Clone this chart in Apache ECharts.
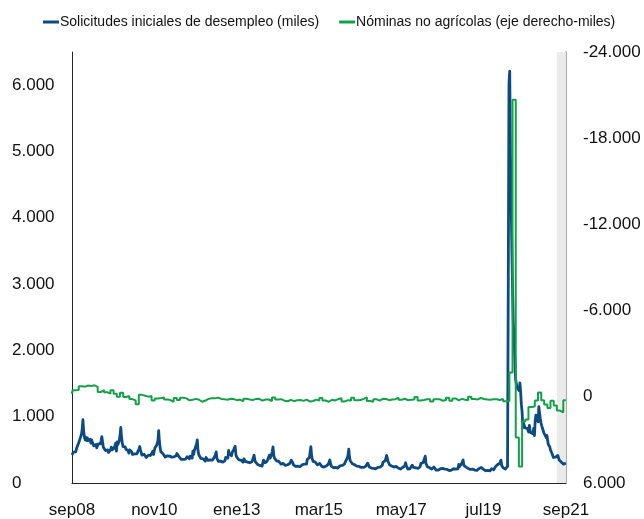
<!DOCTYPE html>
<html>
<head>
<meta charset="utf-8">
<script src="https://cdn.jsdelivr.net/npm/echarts@6/dist/echarts.min.js"></script>
<style>
  html, body { margin: 0; padding: 0; background: #fff; }
  #chart { width: 644px; height: 519px; }
</style>
</head>
<body>
<div id="chart"></div>
<script>
// Initial unemployment claims, not seasonally adjusted (thousands), weekly, week ending Saturday
const claimsStart = [2008, 8, 27]; // 27 Sep 2008
const claims2008 = [425, 445, 465, 450, 455, 470, 510, 545, 515, 600, 625, 665, 700, 735];
const claims2009 = [810, 957, 780, 700, 650, 690, 640, 680, 640, 660, 630, 660, 600, 650, 610, 600, 560,
  590, 550, 580, 530, 560, 590, 570, 610, 590, 640, 700, 620, 540, 520, 530, 490, 520, 480,
  500, 460, 480, 470, 500, 540, 500, 520, 490, 530, 550, 600, 480, 620, 580, 610, 640];
const claims2010 = [720, 840, 690, 610, 550, 570, 530, 545, 510, 520, 480, 490, 450, 500, 530, 470, 470,
  430, 450, 420, 440, 410, 450, 440, 465, 460, 510, 550, 500, 460, 420, 440, 420, 435, 405,
  410, 385, 400, 395, 420, 440, 430, 415, 440, 445, 480, 430, 490, 530, 510, 565, 555];
const claims2011 = [640, 790, 630, 530, 470, 480, 440, 440, 410, 420, 390, 400, 375, 410, 440, 410, 405, 400,
  410, 390, 395, 365, 395, 390, 420, 410, 445, 475, 430, 395, 365, 370, 355, 375, 360,
  355, 370, 350, 360, 355, 395, 370, 380, 365, 405, 390, 415, 375, 480, 430, 490, 495, 520];
const claims2012 = [590, 650, 490, 430, 410, 405, 370, 375, 360, 365, 335, 345, 330, 385, 370, 365, 340,
  345, 330, 350, 320, 355, 345, 375, 380, 405, 430, 470, 370, 355, 325, 340, 325, 330,
  315, 335, 315, 330, 310, 335, 385, 355, 360, 375, 490, 440, 410, 445, 410, 465, 470, 500];
const claims2013 = [520, 555, 430, 395, 370, 375, 350, 350, 340, 345, 320, 330, 315, 365, 340, 325, 305,
  300, 315, 295, 290, 305, 300, 325, 320, 340, 380, 420, 350, 315, 285, 300, 280, 285, 265,
  265, 250, 260, 255, 305, 345, 335, 305, 300, 325, 330, 345, 310, 420, 375, 405, 425];
const claims2014 = [480, 545, 420, 375, 355, 355, 335, 335, 325, 325, 300, 305, 285, 315, 300, 295, 275,
  275, 265, 270, 255, 275, 275, 295, 295, 315, 345, 372, 310, 275, 255, 265, 250, 260, 245,
  255, 245, 250, 245, 265, 275, 275, 260, 275, 285, 305, 295, 285, 355, 335, 345, 385];
const claims2015 = [470, 548, 410, 365, 325, 335, 315, 315, 295, 295, 275, 275, 260, 295, 275, 270, 250,
  245, 255, 240, 245, 245, 255, 260, 280, 285, 315, 347, 295, 255, 235, 245, 230, 240, 225,
  235, 220, 230, 225, 245, 255, 260, 240, 255, 265, 285, 255, 285, 315, 335, 325, 375];
const claims2016 = [420, 510, 395, 335, 305, 305, 290, 290, 270, 275, 260, 255, 255, 280, 260, 250, 230, 240,
  235, 250, 230, 235, 235, 255, 250, 275, 275, 300, 270, 245, 225, 230, 225, 225, 215,
  220, 205, 220, 215, 230, 235, 235, 220, 235, 240, 260, 235, 265, 315, 295, 305, 335, 340];
const claims2017 = [415, 435, 325, 295, 275, 270, 250, 255, 240, 245, 240, 240, 250, 250, 245, 220, 225,
  210, 230, 210, 215, 220, 235, 230, 250, 260, 305, 265, 235, 210, 215, 205, 215, 205,
  220, 270, 265, 235, 225, 210, 230, 210, 215, 220, 245, 230, 245, 295, 270, 265, 305, 315];
const claims2018 = [370, 405, 295, 265, 245, 250, 230, 230, 220, 230, 210, 210, 205, 240, 220, 215, 195,
  200, 205, 195, 195, 195, 215, 210, 225, 220, 240, 245, 210, 210, 195, 205, 190, 200,
  188, 195, 185, 195, 190, 200, 215, 205, 195, 210, 215, 240, 215, 280, 245, 260, 265, 295];
const claims2019 = [315, 348, 265, 245, 235, 240, 225, 230, 220, 220, 200, 205, 195, 210, 210, 205, 190,
  195, 200, 195, 190, 200, 205, 220, 215, 225, 235, 240, 210, 205, 185, 200, 185, 190, 180,
  190, 180, 190, 182, 195, 215, 200, 195, 200, 215, 240, 215, 235, 275, 265, 265, 295];
const claims2020 = [310, 345, 265, 245, 230, 225, 210, 210, 200, 205, 250, 2920, 6015, 6211, 4971, 4267, 3490,
  2849, 2380, 2174, 1898, 1567, 1507, 1433, 1413, 1438, 1393, 1508, 1370, 1185, 1076, 833, 901, 866, 833,
  863, 823, 825, 804, 770, 868, 790, 758, 738, 755, 743, 827, 716, 947, 1022, 1023, 1002];
const claims2021 = [922, 1151, 1055, 970, 905, 862, 833, 842, 754, 744, 747, 686, 719, 746, 582, 595, 547,
  498, 474, 445, 440, 386, 378, 395, 391, 366, 389, 415, 395, 346, 336, 337, 313, 308, 292,
  284, 301, 308, 300];

// Nonfarm payrolls, monthly change (thousands), from Aug 2008 to Aug 2021
const payrollStart = [2008, 7]; // Aug 2008
const payroll2008 = [-274, -459, -472, -727, -706];
const payroll2009 = [-784, -743, -800, -695, -330, -466, -322, -216, -454, -204, 2, -283];
const payroll2010 = [18, -50, 157, 253, 520, -136, -73, -11, -50, 262, 119, 88];
const payroll2011 = [42, 188, 225, 346, 77, 225, 69, 110, 246, 202, 146, 207];
const payroll2012 = [344, 259, 143, 94, 108, 56, 146, 176, 202, 136, 159, 245];
const payroll2013 = [190, 311, 135, 192, 218, 146, 140, 269, 185, 189, 291, 45];
const payroll2014 = [187, 168, 272, 310, 213, 306, 232, 218, 286, 200, 331, 292];
const payroll2015 = [194, 267, 83, 255, 345, 206, 254, 157, 100, 321, 234, 260];
const payroll2016 = [73, 236, 227, 141, 39, 286, 343, 173, 263, 139, 155, 233];
const payroll2017 = [191, 167, 58, 201, 138, 241, 197, 195, 15, 250, 216, 170];
const payroll2018 = [171, 330, 179, 164, 275, 225, 73, 282, 110, 245, 143, 209];
const payroll2019 = [236, 4, 146, 183, 82, 152, 180, 209, 176, 167, 222, 148];
const payroll2020 = [315, 289, -1683, -20679, 2833, 4846, 1726, 1583, 716, 680, 264, -306];
const payroll2021 = [233, 536, 785, 269, 614, 962, 1091, 235];

// Axis range and tick labels
const axisStart = [2008, 8, 27];
const axisEnd = [2021, 8, 27];
const tickDates = [[2008, 8, 27], [2010, 10, 27], [2013, 0, 27], [2015, 2, 27], [2017, 4, 27], [2019, 6, 27], [2021, 8, 27]];
const monthNames = ['ene', 'feb', 'mar', 'abr', 'may', 'jun', 'jul', 'ago', 'sep', 'oct', 'nov', 'dic'];
const shadedPeriod = [[2021, 6, 1], [2021, 8, 27]];

const seriesNames = ['Solicitudes iniciales de desempleo (miles)', 'Nóminas no agrícolas (eje derecho-miles)'];
const colors = ['#0d4a80', '#14a04b'];

const ts = d => new Date(d[0], d[1], d[2]).getTime();

const claims = [].concat(claims2008, claims2009, claims2010, claims2011, claims2012, claims2013, claims2014,
  claims2015, claims2016, claims2017, claims2018, claims2019, claims2020, claims2021);
const payroll = [].concat(payroll2008, payroll2009, payroll2010, payroll2011, payroll2012, payroll2013,
  payroll2014, payroll2015, payroll2016, payroll2017, payroll2018, payroll2019, payroll2020, payroll2021);

const claimsData = claims.map((v, i) =>
  [new Date(claimsStart[0], claimsStart[1], claimsStart[2] + 7 * i).getTime(), v]);

// each monthly print is shown from the start of the month after its reference month
const payrollData = payroll.map((v, i) =>
  [new Date(payrollStart[0], payrollStart[1] + i + 1, 1).getTime(), v]);
// the latest print stays in effect through the last week of claims
payrollData.push([claimsData[claimsData.length - 1][0], payroll[payroll.length - 1]]);

function thousands(v) {
  const s = String(Math.abs(v)).replace(/\B(?=(\d{3})+(?!\d))/g, '.');
  return (v < 0 ? '-' : '') + s;
}

const FONT = '"Liberation Sans", Arial, sans-serif';
const chart = echarts.init(document.getElementById('chart'), null, { renderer: 'canvas' });

chart.setOption({
  animation: false,
  backgroundColor: '#ffffff',
  textStyle: { fontFamily: FONT },
  legend: {
    left: 38,
    top: 10,
    itemWidth: 16,
    itemHeight: 3,
    itemGap: 20,
    icon: 'rect',
    textStyle: { fontFamily: FONT, fontSize: 14, color: '#111', padding: [0, 0, 0, -4] },
    data: seriesNames
  },
  grid: { left: 72, right: 78, top: 52, bottom: 36 },
  xAxis: {
    type: 'value',
    min: ts(axisStart),
    max: ts(axisEnd),
    axisLine: { show: true, onZero: false, lineStyle: { color: '#262626', width: 1 } },
    axisTick: { show: false },
    splitLine: { show: false },
    axisLabel: {
      customValues: tickDates.map(ts),
      hideOverlap: false,
      margin: 19,
      fontFamily: FONT,
      fontSize: 17,
      color: '#111',
      formatter: function (value) {
        const d = new Date(value);
        return monthNames[d.getMonth()] + String(d.getFullYear()).slice(2);
      }
    }
  },
  yAxis: [
    {
      type: 'value',
      min: 0,
      max: 6500,
      interval: 1000,
      axisLine: { show: true, lineStyle: { color: '#262626', width: 1 } },
      axisTick: { show: false },
      splitLine: { show: false },
      axisLabel: {
        align: 'left',
        margin: 60,
        fontFamily: FONT,
        fontSize: 17,
        color: '#111',
        formatter: v => (v > 6000 ? '' : thousands(v))
      }
    },
    {
      type: 'value',
      position: 'right',
      inverse: true,
      min: -24000,
      max: 6000,
      interval: 6000,
      axisLine: { show: true, lineStyle: { color: '#8c8c8c', width: 1.5 } },
      axisTick: { show: false },
      splitLine: { show: false },
      axisLabel: {
        margin: 17,
        fontFamily: FONT,
        fontSize: 17,
        color: '#111',
        formatter: v => thousands(v)
      }
    }
  ],
  series: [
    {
      name: seriesNames[0],
      type: 'line',
      yAxisIndex: 0,
      data: claimsData,
      showSymbol: false,
      symbol: 'none',
      lineStyle: { color: colors[0], width: 2.8, join: 'round' },
      itemStyle: { color: colors[0] },
      markArea: {
        silent: true,
        itemStyle: { color: '#ebebeb' },
        data: [[{ xAxis: ts(shadedPeriod[0]) }, { xAxis: ts(shadedPeriod[1]) }]]
      },
      z: 2
    },
    {
      name: seriesNames[1],
      type: 'line',
      yAxisIndex: 1,
      step: 'end',
      data: payrollData,
      showSymbol: false,
      symbol: 'none',
      lineStyle: { color: colors[1], width: 2 },
      itemStyle: { color: colors[1] },
      z: 3
    }
  ]
});
</script>
</body>
</html>
